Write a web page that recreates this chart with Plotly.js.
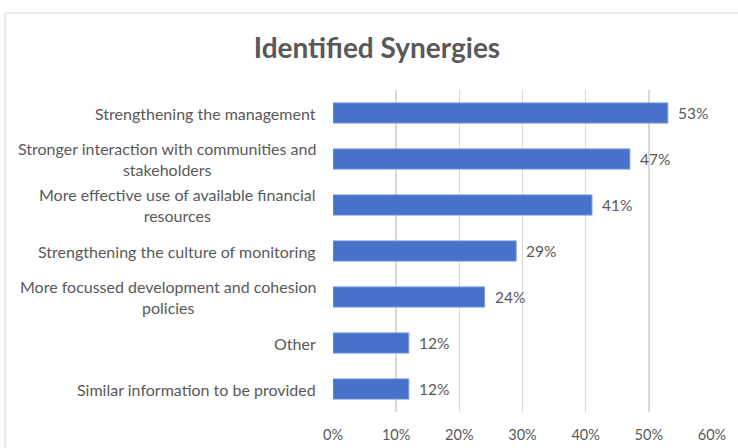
<!DOCTYPE html>
<html>
<head>
<meta charset="utf-8">
<script src="https://cdn.plot.ly/plotly-3.0.1.min.js"></script>
<style>
  html, body { margin: 0; padding: 0; background: #fff; }
  #chart { width: 738px; height: 448px; }
</style>
</head>
<body>
<div id="chart"></div>
<script>
// categories top to bottom, with the line breaks used in the original
const categories = [
    'Strengthening the management',
    'Stronger interaction with communities and<br>stakeholders',
    'More effective use of available financial<br>resources',
    'Strengthening the culture of monitoring',
    'More focussed development and cohesion<br>policies',
    'Other',
    'Similar information to be provided'
];
const shares = [0.53, 0.47, 0.41, 0.29, 0.24, 0.12, 0.12];
const tickValues = [0, 0.1, 0.2, 0.3, 0.4, 0.5, 0.6];
const tickLabels = ['0%', '10%', '20%', '30%', '40%', '50%', '60%'];

const textColor = '#595959';
const font = 'Lato, "Open Sans", sans-serif';

const trace = {
    type: 'bar',
    orientation: 'h',
    x: shares,
    y: categories,
    marker: { color: '#4673c9', line: { color: '#7d9bd8', width: 1 } },
    hoverinfo: 'none'
};

// category labels centred like Excel does it, value labels to the right of bars
const labelNotes = categories.map(c => ({
    text: c, x: 0, xref: 'paper', y: c, yref: 'y',
    xanchor: 'right', align: 'center', xshift: -15, showarrow: false,
    font: { family: font, size: 16, color: textColor }
}));
const valueNotes = shares.map((v, i) => ({
    text: Math.round(v * 100) + '%', x: v, y: categories[i],
    xanchor: 'left', xshift: 8, showarrow: false,
    font: { family: font, size: 15.5, color: textColor }
}));

const layout = {
    width: 738,
    height: 448,
    margin: { l: 333, r: 26, t: 90, b: 36, pad: 0 },
    paper_bgcolor: '#fff',
    plot_bgcolor: '#fff',
    showlegend: false,
    bargap: 0.56,
    title: {
        text: '<b>Identified Synergies</b>',
        font: { family: font, size: 28, color: textColor },
        xref: 'paper', x: 0.116, xanchor: 'center',
        yref: 'container', y: 0.893, yanchor: 'middle'
    },
    xaxis: {
        range: [0, 0.6],
        tickvals: tickValues,
        ticktext: tickLabels,
        showgrid: true,
        gridcolor: '#d9d9d9',
        gridwidth: 1.5,
        zeroline: false,
        showline: false,
        ticks: '',
        ticklabelstandoff: 12,
        tickfont: { family: font, size: 14.5, color: textColor },
        fixedrange: true
    },
    yaxis: {
        autorange: 'reversed',
        showticklabels: false,
        showgrid: false,
        zeroline: false,
        ticks: '',
        fixedrange: true
    },
    annotations: labelNotes.concat(valueNotes),
    shapes: [{
        type: 'rect', xref: 'paper', yref: 'paper',
        x0: -0.865, x1: 1.2, y0: -0.3, y1: 1.239,
        line: { color: '#d9d9d9', width: 1 }, fillcolor: 'rgba(0,0,0,0)',
        layer: 'below'
    }]
};

Plotly.newPlot('chart', [trace], layout, { displayModeBar: false, staticPlot: true });
</script>
</body>
</html>
